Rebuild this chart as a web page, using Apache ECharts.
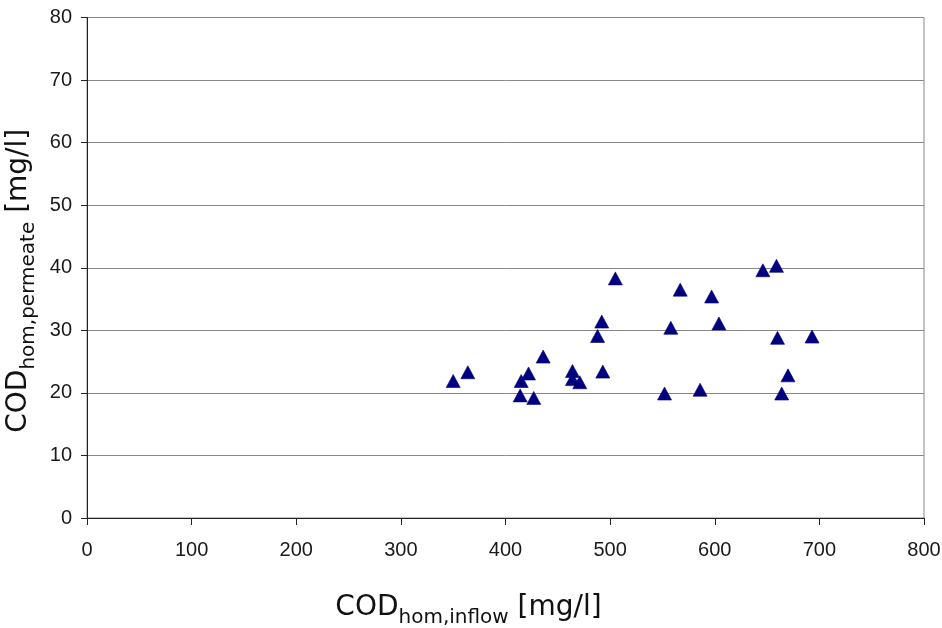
<!DOCTYPE html>
<html>
<head>
<meta charset="utf-8">
<script src="https://cdn.jsdelivr.net/npm/echarts@6/dist/echarts.min.js"></script>
<style>html,body{margin:0;padding:0;background:#fff}#c{width:942px;height:628px}</style>
</head>
<body>
<div id="c"></div>
<script>
var inflow = [350, 364, 415, 414, 422, 427, 436, 464, 464, 471, 488, 492, 493, 505, 552, 558, 567, 586, 597, 604, 646, 659, 660, 664, 670, 693];
var permeate = [21.9, 23.3, 21.9, 19.6, 23.1, 19.2, 25.8, 23.5, 22.2, 21.7, 29.1, 31.4, 23.4, 38.3, 19.9, 30.4, 36.5, 20.5, 35.4, 31.1, 39.6, 40.3, 28.8, 19.9, 22.8, 29.0];
var xTicks = [0, 100, 200, 300, 400, 500, 600, 700, 800];
var yTicks = [0, 10, 20, 30, 40, 50, 60, 70, 80];

var data = inflow.map(function (x, i) { return [x, permeate[i]]; });
var tickFont = '"Liberation Sans", Arial, sans-serif';
var titleFont = '"DejaVu Sans", sans-serif';
var chart = echarts.init(document.getElementById('c'));
chart.setOption({
  animation: false,
  backgroundColor: '#fff',
  grid: { left: 87, right: 18, top: 17.5, bottom: 110, show: true, borderColor: '#888', borderWidth: 1, outerBoundsMode: 'none', containLabel: false },
  xAxis: {
    type: 'value', min: xTicks[0], max: xTicks[xTicks.length - 1], interval: 100,
    axisLine: { show: true, lineStyle: { color: '#222', width: 1 } },
    axisTick: { show: true, length: 7, lineStyle: { color: '#222' } },
    splitLine: { show: false },
    axisLabel: { color: '#1a1a1a', fontSize: 20, fontFamily: tickFont, margin: 22 },
    name: '{a|COD}{b|hom,inflow}{a| [mg/l]}',
    nameLocation: 'middle', nameGap: 76,
    nameTextStyle: {
      padding: [0, 74, 0, 0],
      rich: {
        a: { fontSize: 28, fontFamily: titleFont, color: '#111', lineHeight: 34, verticalAlign: 'top' },
        b: { fontSize: 20, fontFamily: titleFont, color: '#111', lineHeight: 34, verticalAlign: 'bottom', padding: [13, 0, 0, 0] }
      }
    }
  },
  yAxis: {
    type: 'value', min: yTicks[0], max: yTicks[yTicks.length - 1], interval: 10,
    axisLine: { show: true, lineStyle: { color: '#222', width: 1 } },
    axisTick: { show: true, length: 6, lineStyle: { color: '#222' } },
    splitLine: { show: true, lineStyle: { color: '#888', width: 1 } },
    axisLabel: { color: '#1a1a1a', fontSize: 20, fontFamily: tickFont, margin: 15 },
    name: '{a|COD}{b|hom,permeate}{a| [mg/l]}',
    nameLocation: 'middle', nameGap: 34, nameRotate: 90,
    nameTextStyle: {
      padding: [0, 26, 0, 0],
      rich: {
        a: { fontSize: 28, fontFamily: titleFont, color: '#111', lineHeight: 34, verticalAlign: 'top' },
        b: { fontSize: 20, fontFamily: titleFont, color: '#111', lineHeight: 34, verticalAlign: 'bottom', padding: [13, 0, 0, 0] }
      }
    }
  },
  series: [{
    type: 'scatter',
    data: data,
    symbol: 'triangle',
    symbolSize: [14, 13],
    itemStyle: { color: '#000080', borderColor: '#000070', borderWidth: 0.6, opacity: 1 }
  }]
});
</script>
</body>
</html>
